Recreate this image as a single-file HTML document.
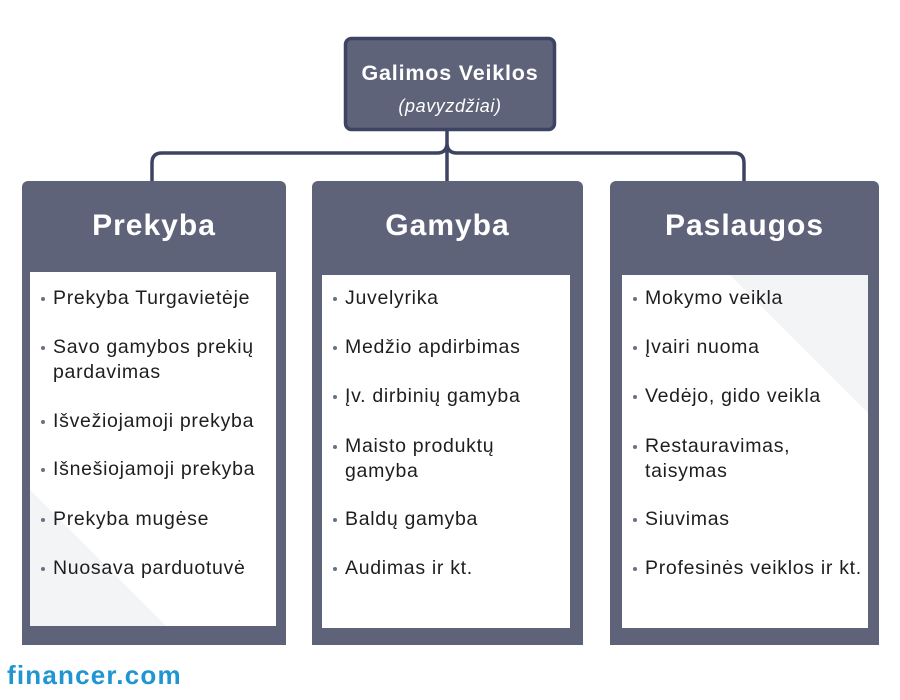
<!DOCTYPE html>
<html><head><meta charset="utf-8"><style>
body{margin:0;width:900px;height:700px;background:#fff;position:relative;overflow:hidden;font-family:"Liberation Sans","DejaVu Sans",sans-serif}
.a{position:absolute}
.col{position:absolute;background:#5e6379;border-radius:6px 6px 0 0}
.col h2{margin:0;position:absolute;left:0;right:0;top:28px;text-align:center;color:#fff;font-size:30px;font-weight:bold;letter-spacing:1px}
.in{position:absolute;background:#fff;overflow:hidden}
.it{position:absolute;left:0;font-size:19.5px;letter-spacing:0.7px;color:#1e1e1e;line-height:25px;padding-left:23px;white-space:nowrap}
.it:before{content:"";position:absolute;left:11px;top:11px;width:4px;height:4px;border-radius:50%;background:#6a6f85}
</style></head><body>
<svg class="a" style="left:0;top:0" width="900" height="200">
<path d="M152 181 V163 Q152 153 162 153 H437 Q447 153 447 143 V131 M447 143 V181 M447 143 Q447 153 457 153 H734 Q744 153 744 163 V181" fill="none" stroke="#3d4463" stroke-width="3.5"/>
<rect x="345.5" y="38.5" width="209" height="91" rx="6" fill="#5e6379" stroke="#3d4463" stroke-width="3.5"/>
<text x="450" y="80" text-anchor="middle" fill="#fff" font-family="Liberation Sans, sans-serif" font-weight="bold" font-size="21.5" letter-spacing="0.8">Galimos Veiklos</text>
<text x="450" y="112" text-anchor="middle" fill="#fff" font-family="Liberation Sans, sans-serif" font-style="italic" font-size="18" letter-spacing="0.6">(pavyzdžiai)</text>
</svg>

<div class="col" style="left:22px;top:181px;width:264px;height:464px"><h2>Prekyba</h2>
<div class="in" style="left:8px;top:91px;width:246px;height:354px">
<svg class="a" style="left:0;top:0" width="246" height="354"><polygon points="0,218 0,354 136,354" fill="#f3f4f6"/></svg>
<div class="it" style="top:14px">Prekyba Turgavietėje</div>
<div class="it" style="top:63px">Savo gamybos prekių<br>pardavimas</div>
<div class="it" style="top:137px">Išvežiojamoji prekyba</div>
<div class="it" style="top:185px">Išnešiojamoji prekyba</div>
<div class="it" style="top:235px">Prekyba mugėse</div>
<div class="it" style="top:284px">Nuosava parduotuvė</div>
</div></div>

<div class="col" style="left:312px;top:181px;width:271px;height:464px"><h2>Gamyba</h2>
<div class="in" style="left:10px;top:94px;width:248px;height:353px">
<div class="it" style="top:11px">Juvelyrika</div>
<div class="it" style="top:60px">Medžio apdirbimas</div>
<div class="it" style="top:109px">Įv. dirbinių gamyba</div>
<div class="it" style="top:159px">Maisto produktų<br>gamyba</div>
<div class="it" style="top:232px">Baldų gamyba</div>
<div class="it" style="top:281px">Audimas ir kt.</div>
</div></div>

<div class="col" style="left:610px;top:181px;width:269px;height:464px"><h2>Paslaugos</h2>
<div class="in" style="left:12px;top:94px;width:246px;height:353px">
<svg class="a" style="left:0;top:0" width="246" height="353"><polygon points="108,0 246,0 246,138" fill="#f3f4f6"/></svg>
<div class="it" style="top:11px">Mokymo veikla</div>
<div class="it" style="top:60px">Įvairi nuoma</div>
<div class="it" style="top:109px">Vedėjo, gido veikla</div>
<div class="it" style="top:159px">Restauravimas,<br>taisymas</div>
<div class="it" style="top:232px">Siuvimas</div>
<div class="it" style="top:281px">Profesinės veiklos ir kt.</div>
</div></div>

<div class="a" style="left:7px;top:660px;font-size:26px;font-weight:bold;color:#1f95d2;letter-spacing:1.2px">financer.com</div>
</body></html>
